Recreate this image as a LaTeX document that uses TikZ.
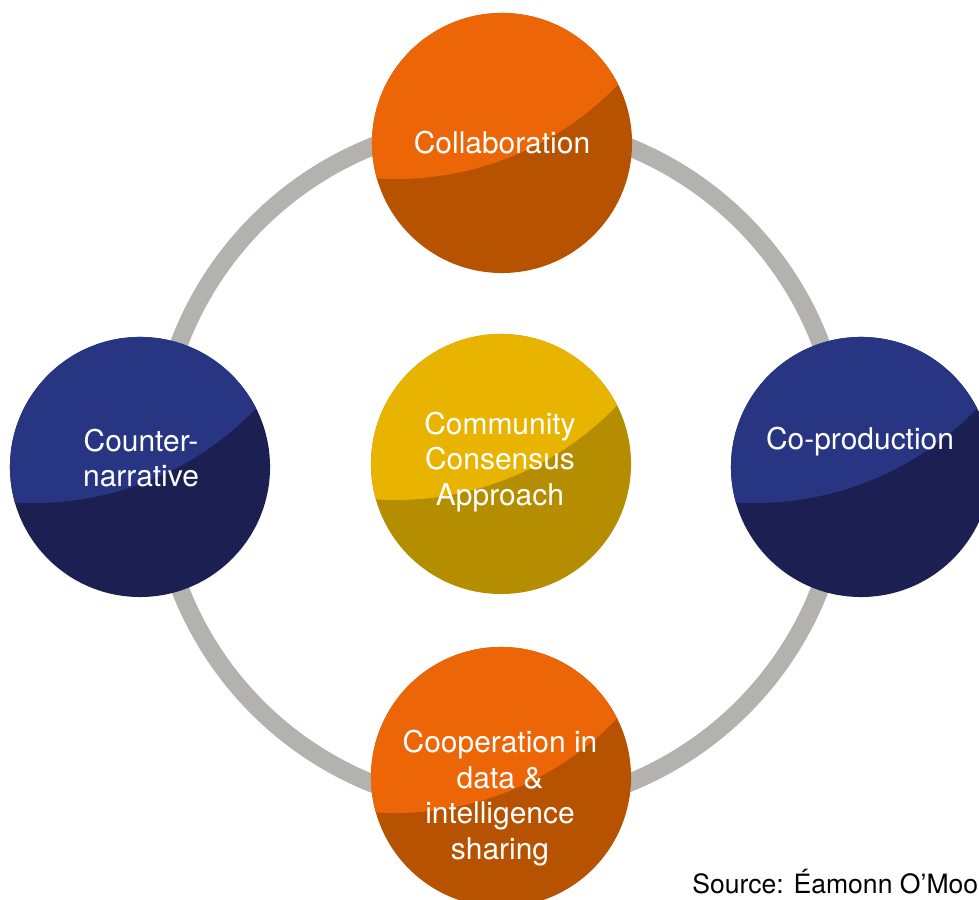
\documentclass[tikz,border=0pt]{standalone}
\usepackage{fontspec}
\setmainfont{TeX Gyre Heros}
\usepackage{tikz}

\definecolor{orangelight}{RGB}{236,102,8}
\definecolor{orangedark}{RGB}{183,83,0}
\definecolor{bluelight}{RGB}{40,53,131}
\definecolor{bluedark}{RGB}{28,31,82}
\definecolor{yellowlight}{RGB}{232,180,0}
\definecolor{yellowdark}{RGB}{180,142,0}
\definecolor{ringgray}{RGB}{179,178,174}

\tikzset{
  ring/.style={draw=ringgray, line width=0.45cm},
  bubble/.style={circle, minimum size=6.5cm, inner sep=0pt, fill=#1dark,
    path picture={\fill[#1light] ([xshift=-2.66cm,yshift=6.82cm]path picture bounding box.center) circle[radius=7.72cm];}},
  caption/.style={text=white, align=center, font=\fontsize{21.3}{25.4}\selectfont},
  source/.style={inner sep=0pt, anchor=base west, font=\fontsize{18.9}{22}\selectfont}
}

\begin{document}
\begin{tikzpicture}[x=0.025cm, y=0.025cm]

   \useasboundingbox (0,0) rectangle (979,900);

   % grey ring behind the five bubbles
   \coordinate (hub) at (500,435);
   \draw[ring] (hub) circle[radius=343];

   \node[bubble=orange] (collab) at (502,757) {};
   \node[bubble=blue]   (counter) at (140,433) {};
   \node[bubble=blue]   (coprod) at (861,433) {};
   \node[bubble=yellow] (consensus) at (501,436) {};
   \node[bubble=orange] (coop) at (501,123) {};

   \node[caption] (collabtext) at (502,757) {Collaboration};
   \node[caption] (countertext) at (141,442) {Counter-\\narrative};
   \node[caption] (coprodtext) at (860,458) {Co-production};
   \node[caption] (consensustext) at (500,438) {Community\\Consensus\\Approach};
   \node[caption] (cooptext) at (500,102) {Cooperation in\\data \&\\intelligence\\sharing};

   \node[source] (credit) at (692,7) {Source: Éamonn O’Moo};

\end{tikzpicture}
\end{document}
